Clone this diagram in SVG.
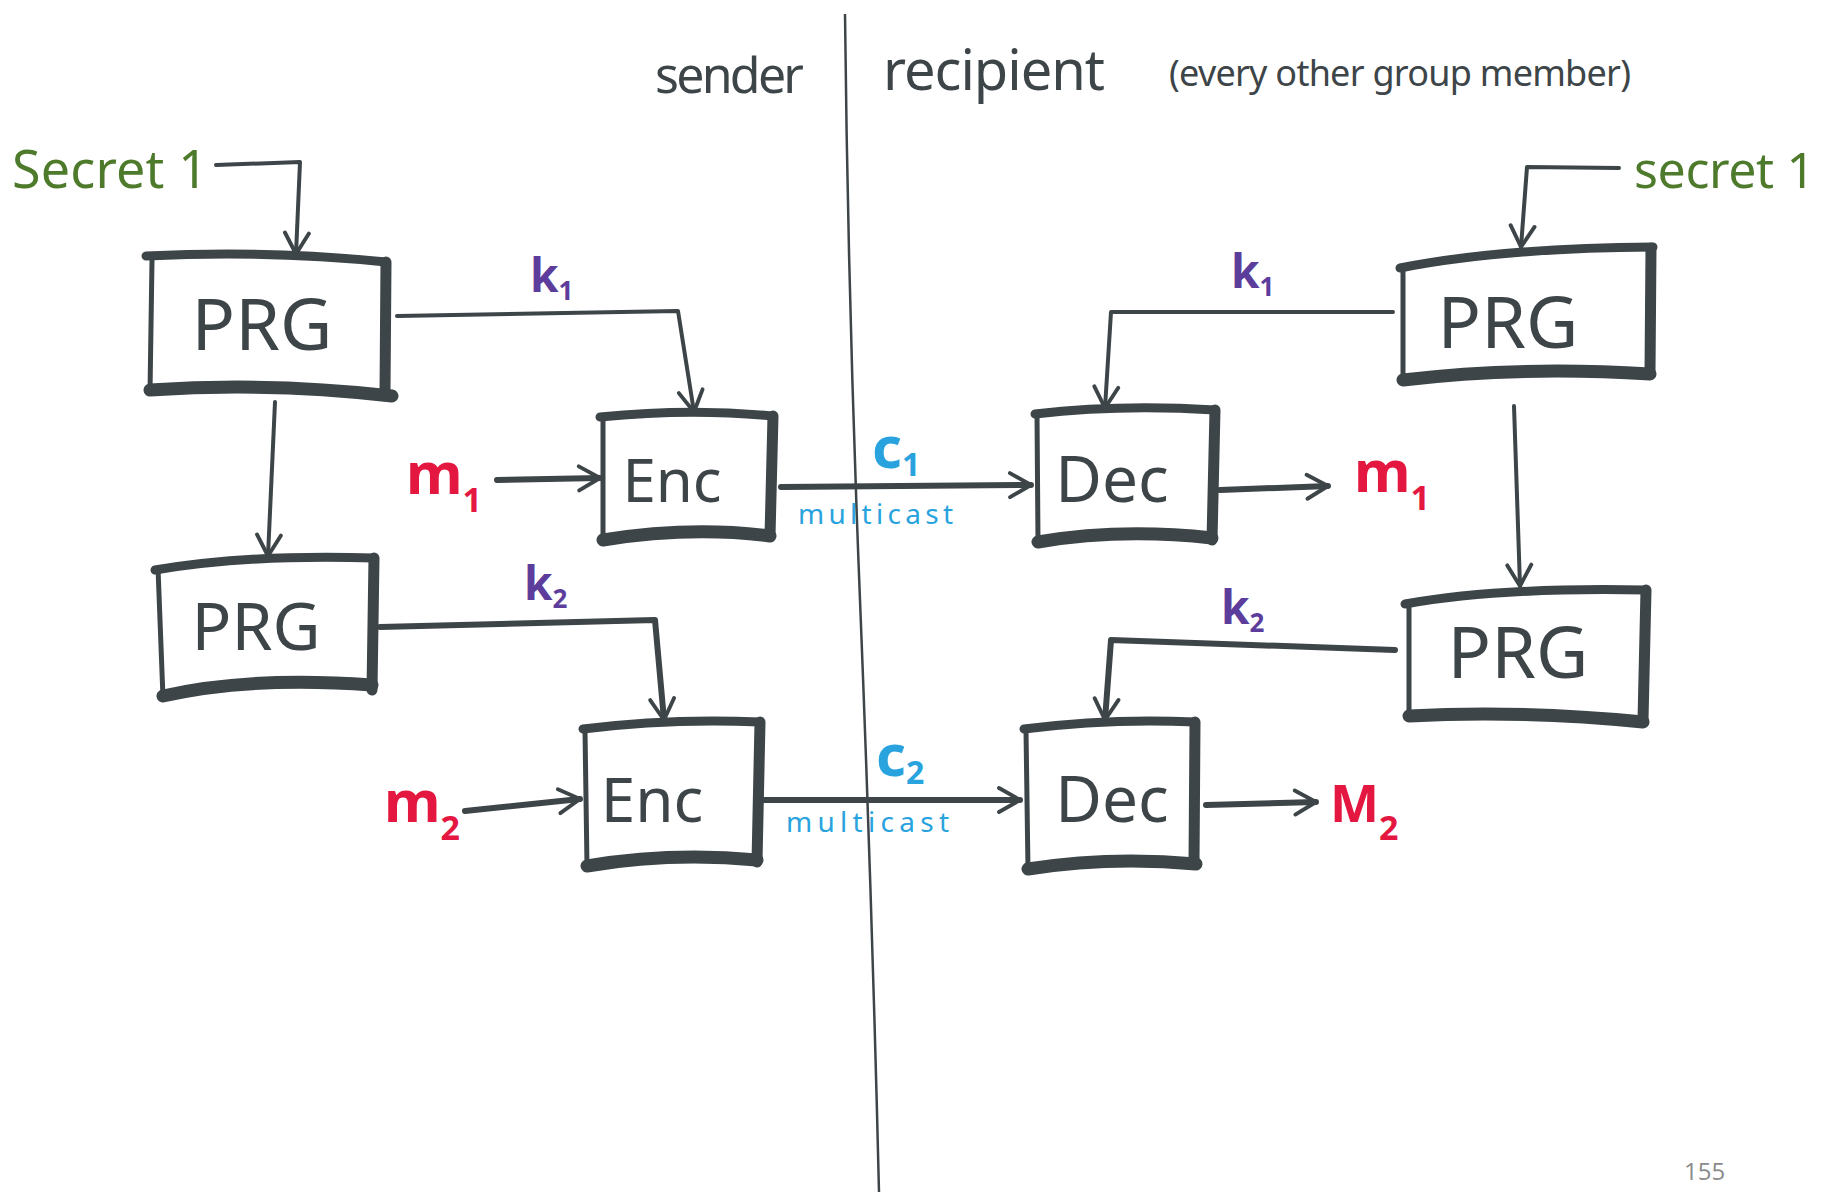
<svg xmlns="http://www.w3.org/2000/svg" width="1833" height="1192" viewBox="0 0 1833 1192">
<style>
.thin{fill:none;stroke:#3d4548;stroke-width:5;stroke-linecap:round;stroke-linejoin:round}
.top{fill:none;stroke:#3d4548;stroke-width:9;stroke-linecap:round}
.rt{fill:none;stroke:#3d4548;stroke-width:11;stroke-linecap:round}
.bot{fill:none;stroke:#3d4548;stroke-width:13;stroke-linecap:round}
.lbl{font-family:"Noto Sans","Liberation Sans",sans-serif;fill:#3d4548;text-anchor:middle}
.con{fill:none;stroke:#3d4548;stroke-width:4;stroke-linecap:round;stroke-linejoin:round}
.conb{fill:none;stroke:#3d4548;stroke-width:6;stroke-linecap:round;stroke-linejoin:round}
.hand{font-family:"Noto Sans","Liberation Sans",sans-serif}
.green{fill:#4e7a2c}
.purple{fill:#5c3d9c;font-weight:bold}
.blue{fill:#29a3de}
.red{fill:#e3173f;font-weight:bold}
</style>
<defs>
<marker id="arr" viewBox="0 0 20 20" refX="17" refY="10" markerWidth="30" markerHeight="30" markerUnits="userSpaceOnUse" orient="auto">
<path d="M3,2 L17,10 L3,18" fill="none" stroke="#3d4548" stroke-width="2.6" stroke-linecap="round" stroke-linejoin="round"/>
</marker>
</defs>
<rect width="1833" height="1192" fill="#ffffff"/>

<!-- divider -->
<path d="M845,14 Q848,300 860,600 T879,1192" fill="none" stroke="#3d4548" stroke-width="2.5"/>

<!-- headings -->
<text class="hand" x="655" y="93" font-size="50" fill="#3d4548" textLength="149">sender</text>
<text class="hand" x="883" y="90" font-size="56" fill="#3d4548" textLength="222">recipient</text>
<text class="hand" x="1169" y="86" font-size="36" fill="#3d4548" textLength="462">(every other group member)</text>
<text class="hand green" x="12" y="188" font-size="52" textLength="196">Secret 1</text>
<text class="hand green" x="1634" y="188" font-size="50" textLength="181">secret 1</text>

<!-- nodes -->
<g id="prg-s1">
<path class="thin" d="M152,260 L150,392"/>
<path class="top" d="M146,256 Q270,250 386,262"/>
<path class="rt" d="M386,262 L385,392"/>
<path class="bot" d="M150,390 Q270,382 392,396"/>
<text class="lbl" x="262" y="350" font-size="72">PRG</text>
</g>
<g id="enc1">
<path class="thin" d="M603,420 L603,540"/>
<path class="top" d="M600,417 Q690,408 772,416"/>
<path class="rt" d="M773,416 L770,536"/>
<path class="bot" d="M603,540 Q690,526 770,536"/>
<text class="lbl" x="672" y="502" font-size="60">Enc</text>
</g>
<g id="prg-s2">
<path class="thin" d="M158,568 L163,698"/>
<path class="top" d="M155,570 Q250,554 374,558"/>
<path class="rt" d="M374,558 L372,690"/>
<path class="bot" d="M163,696 Q250,676 372,685"/>
<text class="lbl" x="256" y="650" font-size="66">PRG</text>
</g>
<g id="enc2">
<path class="thin" d="M585,730 L587,866"/>
<path class="top" d="M583,729 Q670,718 760,722"/>
<path class="rt" d="M760,722 L757,862"/>
<path class="bot" d="M587,866 Q670,852 757,860"/>
<text class="lbl" x="652" y="822" font-size="62">Enc</text>
</g>
<g id="dec1">
<path class="thin" d="M1037,414 L1038,542"/>
<path class="top" d="M1035,414 Q1120,404 1215,410"/>
<path class="rt" d="M1215,410 L1212,540"/>
<path class="bot" d="M1038,542 Q1120,528 1212,538"/>
<text class="lbl" x="1112" y="502" font-size="64">Dec</text>
</g>
<g id="dec2">
<path class="thin" d="M1026,730 L1028,870"/>
<path class="top" d="M1024,729 Q1110,718 1195,722"/>
<path class="rt" d="M1195,722 L1194,864"/>
<path class="bot" d="M1028,869 Q1110,856 1196,864"/>
<text class="lbl" x="1112" y="822" font-size="64">Dec</text>
</g>
<g id="prg-r1">
<path class="thin" d="M1403,270 L1403,376"/>
<path class="top" d="M1400,268 Q1500,248 1653,247"/>
<path class="rt" d="M1651,248 L1650,372"/>
<path class="bot" d="M1403,380 Q1520,366 1650,374"/>
<text class="lbl" x="1508" y="348" font-size="72">PRG</text>
</g>
<g id="prg-r2">
<path class="thin" d="M1409,605 L1409,718"/>
<path class="top" d="M1405,604 Q1500,587 1646,590"/>
<path class="rt" d="M1646,590 L1643,720"/>
<path class="bot" d="M1409,716 Q1520,710 1643,722"/>
<text class="lbl" x="1518" y="678" font-size="72">PRG</text>
</g>

<!-- connectors -->
<g id="connectors">
<path class="con" d="M216,165 L300,162 L296,254" marker-end="url(#arr)"/>
<path class="con" d="M397,316 L678,311 L694,412" marker-end="url(#arr)"/>
<path class="con" d="M275,402 L268,556" marker-end="url(#arr)"/>
<path class="conb" d="M497,480 L600,478" marker-end="url(#arr)"/>
<path class="conb" d="M781,487 L1031,485" marker-end="url(#arr)"/>
<path class="conb" d="M1220,490 L1328,486" marker-end="url(#arr)"/>
<path class="con" d="M1393,312 L1111,312 L1105,408" marker-end="url(#arr)"/>
<path class="con" d="M1619,168 L1527,167 L1521,247" marker-end="url(#arr)"/>
<path class="con" d="M1514,406 L1520,586" marker-end="url(#arr)"/>
<path class="conb" d="M380,627 L655,620 L664,720" marker-end="url(#arr)"/>
<path class="conb" d="M465,811 L580,799" marker-end="url(#arr)"/>
<path class="conb" d="M763,800 L1020,800" marker-end="url(#arr)"/>
<path class="conb" d="M1206,805 L1316,802" marker-end="url(#arr)"/>
<path class="conb" d="M1395,650 L1111,640 L1105,720" marker-end="url(#arr)"/>
</g>

<!-- connector labels -->
<text class="hand purple" x="530" y="292" font-size="46">k<tspan font-size="26" dy="8">1</tspan></text>
<text class="hand purple" x="1231" y="288" font-size="46">k<tspan font-size="26" dy="8">1</tspan></text>
<text class="hand purple" x="524" y="600" font-size="46">k<tspan font-size="26" dy="8">2</tspan></text>
<text class="hand purple" x="1221" y="624" font-size="46">k<tspan font-size="26" dy="8">2</tspan></text>
<text class="hand red" x="406" y="494" font-size="58">m<tspan font-size="34" dy="18">1</tspan></text>
<text class="hand red" x="1354" y="492" font-size="58">m<tspan font-size="34" dy="18">1</tspan></text>
<text class="hand red" x="384" y="822" font-size="58">m<tspan font-size="34" dy="18">2</tspan></text>
<text class="hand red" x="1330" y="822" font-size="52">M<tspan font-size="34" dy="18">2</tspan></text>
<text class="hand blue" x="872" y="468" font-size="58" font-weight="bold">c<tspan font-size="32" dy="8">1</tspan></text>
<text class="hand blue" x="876" y="776" font-size="58" font-weight="bold">c<tspan font-size="32" dy="8">2</tspan></text>
<text class="hand blue" x="798" y="524" font-size="28" textLength="155">multicast</text>
<text class="hand blue" x="786" y="832" font-size="28" textLength="163">multicast</text>

<text x="1684" y="1180" font-family="Open Sans, Liberation Sans, sans-serif" font-size="24" fill="#8a8a8a">155</text>
</svg>
